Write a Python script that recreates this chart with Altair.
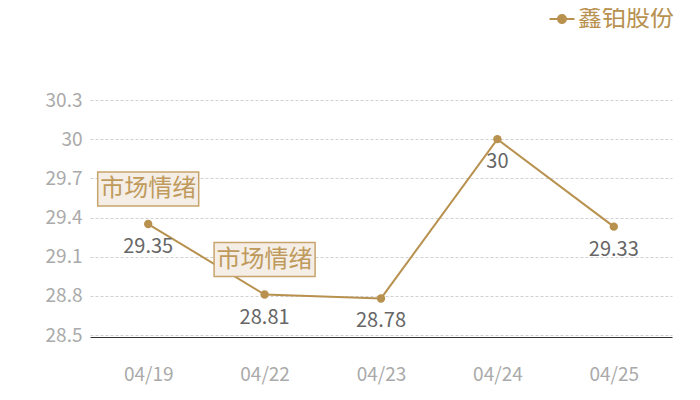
import altair as alt
import pandas as pd

dates = ["04/19", "04/22", "04/23", "04/24", "04/25"]
values = [29.35, 28.81, 28.78, 30.0, 29.33]
labels = ["29.35", "28.81", "28.78", "30", "29.33"]
series_name = "鑫铂股份"
marker_dates = ["04/19", "04/22"]
marker_values = [29.35, 28.81]
marker_text = "市场情绪"
y_ticks = [28.5, 28.8, 29.1, 29.4, 29.7, 30.0, 30.3]

GOLD = "#b8914f"
FONT = "Noto Sans CJK SC"

df = pd.DataFrame({"date": dates, "value": values, "label": labels, "series": series_name})
mdf = pd.DataFrame({"date": marker_dates, "value": marker_values, "text": marker_text})

x = alt.X("date:N", sort=dates, title=None,
          scale=alt.Scale(paddingInner=0, paddingOuter=0, align=0.5),
          axis=alt.Axis(labelAngle=0, labelFontSize=19, labelColor="#aaaaaa", labelFont=FONT,
                        labelPadding=28, ticks=False, domainColor="#333333", domainWidth=1.2,
                        offset=2, grid=False))
y = alt.Y("value:Q", title=None,
          scale=alt.Scale(domain=[28.5, 30.3], nice=False, zero=False),
          axis=alt.Axis(values=y_ticks, tickCount=20, labelExpr="format(datum.value, '.1~f')",
                        labelOverlap=False,
                        labelFontSize=19, labelColor="#aaaaaa", labelFont=FONT, labelPadding=8,
                        ticks=False, domain=False, grid=True, gridColor="#d0d0d0",
                        gridDash=[3, 2], gridWidth=1))

legend_path = ("M-2.08,-0.17 L2.08,-0.17 L2.08,0.17 L-2.08,0.17 Z "
               "M0.83,0 A0.83,0.83 0 1,1 -0.83,0 A0.83,0.83 0 1,1 0.83,0 Z")

line = alt.Chart(df).mark_line(strokeWidth=2, point=alt.OverlayMarkDef(filled=True, size=70, opacity=1)).encode(
    x=x, y=y,
    color=alt.Color("series:N", scale=alt.Scale(range=[GOLD]),
                    legend=alt.Legend(title=None, orient="none", legendX=460, legendY=-93,
                                      padding=0, symbolType=legend_path, symbolSize=144,
                                      symbolStrokeWidth=0, symbolFillColor=GOLD,
                                      labelFontSize=24, labelColor=GOLD,
                                      labelFont=FONT, labelOffset=4, labelLimit=200)),
)

vals = alt.Chart(df).mark_text(dy=23, fontSize=20, color="#666666", font=FONT).encode(
    x=alt.X("date:N", sort=dates), y="value:Q", text="label:N")

box_path = "M-1,-0.337 L1,-0.337 L1,0.337 L-1,0.337 Z"
boxes = alt.Chart(mdf).mark_point(shape=box_path, size=10201, filled=True, fill="#f4eee6",
                                  stroke="#c7a46b", strokeWidth=1.5, opacity=1, yOffset=-35).encode(
    x=alt.X("date:N", sort=dates), y="value:Q")
btext = alt.Chart(mdf).mark_text(dy=-35, fontSize=24, color="#bf9a5c", font=FONT, baseline="middle").encode(
    x=alt.X("date:N", sort=dates), y="value:Q", text="text:N")

chart = alt.layer(line, vals, boxes, btext).properties(
    width=582, height=235,
    autosize=alt.AutoSizeParams(type="none"),
    padding={"left": 82, "top": 92, "right": 20, "bottom": 50},
).configure_view(stroke=None, strokeWidth=0)

chart.save("out.html", embed_options={"renderer": "svg", "actions": False})
